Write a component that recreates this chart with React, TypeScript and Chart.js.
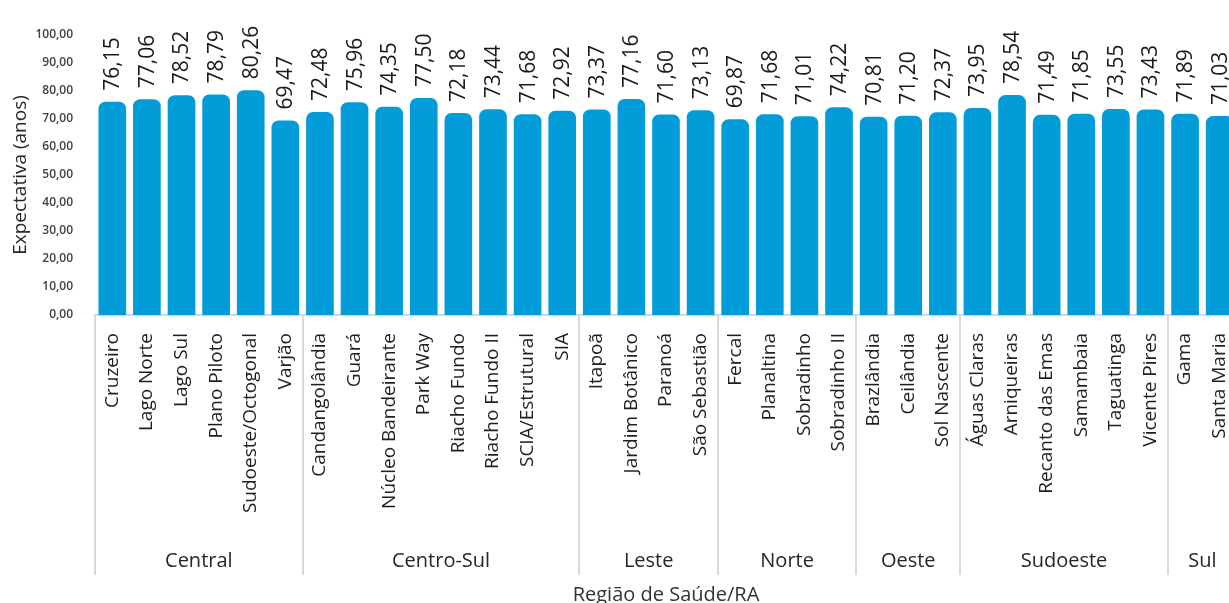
import React, { useEffect, useRef } from "react";
import { Chart, registerables } from "chart.js";

Chart.register(...registerables);

const regions = ["Central", "Centro-Sul", "Leste", "Norte", "Oeste", "Sudoeste", "Sul"];
const regionSizes = [6, 8, 4, 4, 3, 6, 2];

const categories = [
  "Cruzeiro", "Lago Norte", "Lago Sul", "Plano Piloto", "Sudoeste/Octogonal", "Varjão",
  "Candangolândia", "Guará", "Núcleo Bandeirante", "Park Way", "Riacho Fundo", "Riacho Fundo II", "SCIA/Estrutural", "SIA",
  "Itapoã", "Jardim Botânico", "Paranoá", "São Sebastião",
  "Fercal", "Planaltina", "Sobradinho", "Sobradinho II",
  "Brazlândia", "Ceilândia", "Sol Nascente",
  "Águas Claras", "Arniqueiras", "Recanto das Emas", "Samambaia", "Taguatinga", "Vicente Pires",
  "Gama", "Santa Maria",
];

const values = [
  76.15, 77.06, 78.52, 78.79, 80.26, 69.47,
  72.48, 75.96, 74.35, 77.5, 72.18, 73.44, 71.68, 72.92,
  73.37, 77.16, 71.6, 73.13,
  69.87, 71.68, 71.01, 74.22,
  70.81, 71.2, 72.37,
  73.95, 78.54, 71.49, 71.85, 73.55, 73.43,
  71.89, 71.03,
];

const yTicks = [0, 10, 20, 30, 40, 50, 60, 70, 80, 90, 100];

const FONT = "'Open Sans', sans-serif";
const fmt = (v: number) => v.toFixed(2).replace(".", ",");

const valueLabels = {
  id: "valueLabels",
  afterDatasetsDraw(chart: any) {
    const { ctx } = chart;
    const meta = chart.getDatasetMeta(0);
    ctx.save();
    ctx.font = `21px ${FONT}`;
    ctx.fillStyle = "#1a1a1a";
    ctx.textAlign = "left";
    ctx.textBaseline = "middle";
    meta.data.forEach((bar: any, i: number) => {
      ctx.save();
      ctx.translate(bar.x, bar.y - 11);
      ctx.rotate(-Math.PI / 2);
      ctx.fillText(fmt(values[i]), 0, 1);
      ctx.restore();
    });
    ctx.restore();
  },
};

const groupAxis = {
  id: "groupAxis",
  afterDraw(chart: any) {
    const { ctx, chartArea } = chart;
    const xs = chart.scales.x;
    const half = (xs.getPixelForValue(1) - xs.getPixelForValue(0)) / 2;
    const top = chartArea.bottom;
    ctx.save();
    ctx.strokeStyle = "#d9d9d9";
    ctx.lineWidth = 2;
    let start = 0;
    const bounds: number[] = [0];
    regionSizes.forEach((n) => {
      start += n;
      bounds.push(start);
    });
    bounds.forEach((b) => {
      const x = Math.round(xs.getPixelForValue(b) - half);
      ctx.beginPath();
      ctx.moveTo(x, top);
      ctx.lineTo(x, top + 260);
      ctx.stroke();
    });
    ctx.font = `20px ${FONT}`;
    ctx.fillStyle = "#262626";
    ctx.textAlign = "center";
    ctx.textBaseline = "middle";
    regions.forEach((r, i) => {
      const a = xs.getPixelForValue(bounds[i]) - half;
      const b = xs.getPixelForValue(bounds[i + 1]) - half;
      ctx.fillText(r, (a + b) / 2, top + 246);
    });
    ctx.restore();
  },
};

export default function App() {
  const ref = useRef<HTMLCanvasElement>(null);

  useEffect(() => {
    if (!ref.current) return;
    const chart = new Chart(ref.current, {
      type: "bar",
      data: {
        labels: categories,
        datasets: [
          {
            data: values,
            backgroundColor: "#029dd8",
            borderRadius: { topLeft: 7, topRight: 7, bottomLeft: 0, bottomRight: 0 },
            borderSkipped: false,
            barPercentage: 0.8,
            categoryPercentage: 1,
          },
        ],
      },
      options: {
        responsive: false,
        animation: false,
        devicePixelRatio: 1,
        layout: { padding: { top: 35, right: 8, bottom: 0, left: 0 } },
        plugins: { legend: { display: false }, tooltip: { enabled: false } },
        scales: {
          x: {
            grid: { display: false },
            border: { display: true, color: "#d9d9d9", width: 2 },
            ticks: {
              autoSkip: false,
              minRotation: 90,
              maxRotation: 90,
              padding: 10,
              color: "#1f1f1f",
              font: { family: FONT, size: 19 },
            },
            title: {
              display: true,
              text: "Região de Saúde/RA",
              color: "#333333",
              font: { family: FONT, size: 20 },
              padding: { top: 0, bottom: 5 },
            },
            afterFit: (scale: any) => {
              scale.height = 297;
              scale.paddingLeft = 0;
              scale.paddingRight = 0;
            },
          },
          y: {
            min: 0,
            max: 100,
            grid: { display: false },
            border: { display: false },
            afterBuildTicks: (scale: any) => {
              scale.ticks = yTicks.map((v) => ({ value: v }));
            },
            ticks: {
              padding: 14,
              color: "#404040",
              font: { family: FONT, size: 12, weight: "600" },
              callback: (v: any) => fmt(Number(v)),
            },
            title: {
              display: true,
              text: "Expectativa (anos)",
              color: "#262626",
              font: { family: FONT, size: 19 },
              padding: { top: 9, bottom: 0 },
            },
            afterFit: (scale: any) => {
              scale.width = 95;
              scale.paddingTop = 0;
              scale.paddingBottom = 0;
            },
          },
        },
      },
      plugins: [valueLabels, groupAxis],
    });
    return () => chart.destroy();
  }, []);

  return (
    <div
      style={{
        position: "fixed",
        left: 0,
        top: 0,
        width: 1229,
        height: 603,
        overflow: "hidden",
        background: "#ffffff",
      }}
    >
      <canvas ref={ref} width={1245} height={612} style={{ width: 1245, height: 612, display: "block" }} />
    </div>
  );
}
